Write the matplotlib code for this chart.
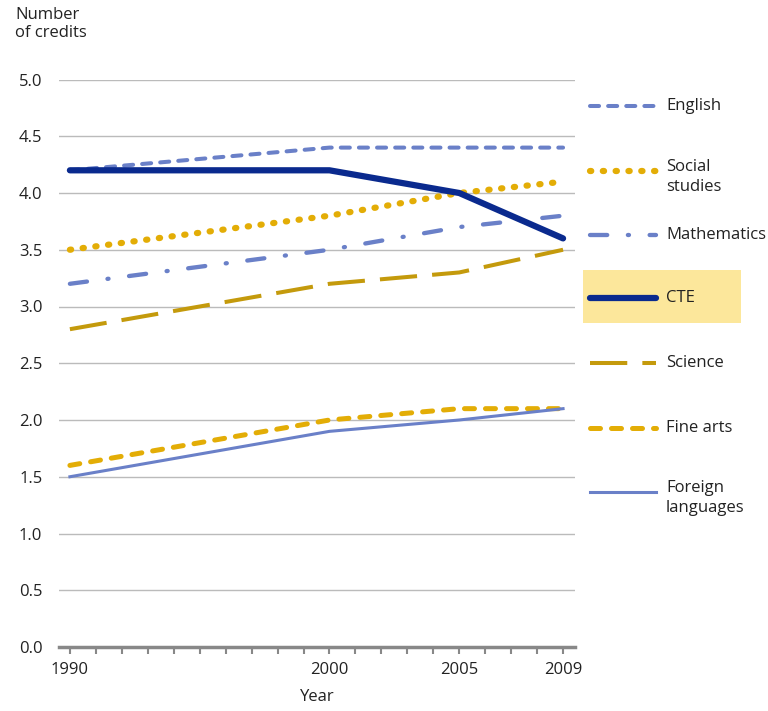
import matplotlib.pyplot as plt
from matplotlib.lines import Line2D
from matplotlib.patches import Rectangle

plt.rcParams['font.family'] = ['Open Sans', 'DejaVu Sans']

# Data
years = [1990, 2000, 2005, 2009]
english = [4.2, 4.4, 4.4, 4.4]
social_studies = [3.5, 3.8, 4.0, 4.1]
mathematics = [3.2, 3.5, 3.7, 3.8]
cte = [4.2, 4.2, 4.0, 3.6]
science = [2.8, 3.2, 3.3, 3.5]
fine_arts = [1.6, 2.0, 2.1, 2.1]
foreign_languages = [1.5, 1.9, 2.0, 2.1]

light_blue = '#6A80C8'
navy = '#0A2A8E'
gold = '#E3AD06'
dark_gold = '#C49A0C'

# name, values, style
series = [
    ('English', english, dict(color=light_blue, lw=2.9, dashes=(2.25, 2.25), dash_capstyle='round')),
    ('Social\nstudies', social_studies, dict(color=gold, lw=4.5, dashes=(0.2, 1.85), dash_capstyle='round')),
    ('Mathematics', mathematics, dict(color=light_blue, lw=3.1, dashes=(4.0, 4.8, 0.25, 4.8), dash_capstyle='round')),
    ('Science', science, dict(color=dark_gold, lw=2.9, dashes=(9.25, 3.75))),
    ('Fine arts', fine_arts, dict(color=gold, lw=3.6, dashes=(2.0, 2.2), dash_capstyle='round')),
    ('Foreign\nlanguages', foreign_languages, dict(color=light_blue, lw=2.2)),
    ('CTE', cte, dict(color=navy, lw=4.5, solid_capstyle='round')),
]

fs = 12
txt = '#222222'

fig = plt.figure(figsize=(7.68, 7.11), dpi=100)
ax = fig.add_axes([59 / 768, 1 - 647 / 711, 516 / 768, (647 - 79.5) / 711])

for name, vals, style in series:
    ax.plot(years, vals, **style, zorder=3)

ax.set_xlim(1989.58, 2009.46)
ax.set_ylim(0, 5.0)
ax.set_yticks([i * 0.5 for i in range(11)])
ax.set_yticklabels([f'{i * 0.5:.1f}' for i in range(11)], fontsize=fs, color=txt)
ax.yaxis.grid(True, color='#BBBBBB', lw=1)
ax.tick_params(axis='y', length=0, pad=12)
ax.set_xticks(years)
ax.set_xticks(range(1990, 2010), minor=True)
ax.set_xticklabels([str(y) for y in years], fontsize=fs, color=txt)
ax.tick_params(axis='x', which='both', direction='out', length=5, width=1.5, color='#888888', pad=6)
for s in ['top', 'right', 'left']:
    ax.spines[s].set_visible(False)
ax.spines['bottom'].set_color('#888888')
ax.spines['bottom'].set_linewidth(2.5)
ax.set_axisbelow(True)

ax.set_xlabel('Year', fontsize=fs, color=txt, labelpad=8)
fig.text(15 / 768, 1 - 7 / 711, 'Number\nof credits', fontsize=fs, color=txt, va='top', ha='left',
         linespacing=1.2)

# Legend
legend_order = ['English', 'Social\nstudies', 'Mathematics', 'CTE', 'Science', 'Fine arts', 'Foreign\nlanguages']
legend_y = [106, 171, 235, 298, 363, 428, 492]
styles = {name: style for name, vals, style in series}
fig.patches.append(Rectangle((583 / 768, 1 - 323 / 711), (741 - 583) / 768, (323 - 270) / 711,
                             transform=fig.transFigure, facecolor='#FCE79B', edgecolor='none', zorder=0))
for name, yp in zip(legend_order, legend_y):
    y = 1 - yp / 711
    fig.add_artist(Line2D([590 / 768, 656 / 768], [y, y], transform=fig.transFigure, **styles[name]))
    if '\n' in name:
        fig.text(666 / 768, y + 12 / 711, name, fontsize=fs, color=txt, va='top', ha='left',
                 linespacing=1.3)
    else:
        fig.text(666 / 768, y, name, fontsize=fs, color=txt, va='center', ha='left')

fig.savefig('out.png', dpi=100)
